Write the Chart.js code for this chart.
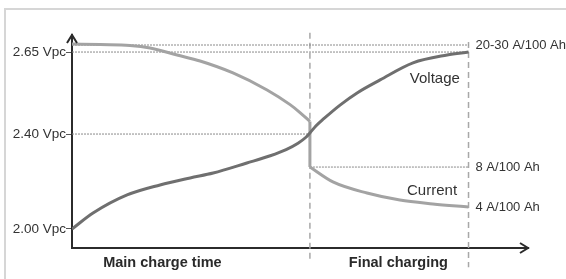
<!DOCTYPE html>
<html>
<head>
<meta charset="utf-8">
<script src="https://cdn.jsdelivr.net/npm/chart.js@4/dist/chart.umd.min.js"></script>
<style>
html, body { margin: 0; padding: 0; background: #fff; }
#wrap { position: relative; width: 566px; height: 279px; overflow: hidden; }
#frame { position: absolute; left: 4px; top: 8px; width: 600px; height: 300px; border-left: 2px solid #d6d6d6; border-top: 2px solid #d6d6d6; }
canvas { position: absolute; left: 0; top: 0; }
</style>
</head>
<body>
<div id="wrap">
  <div id="frame"></div>
  <canvas id="chart" width="566" height="279"></canvas>
</div>
<script>
// schematic units: time 0..115 (main charge ends at 60, final charging at 100),
// level 0..100 from the time axis to the top of the picture
const mainEnd = 60;
const finalEnd = 100;

const timeTicks = [22.8, 82.3];
const timeLabels = ['Main charge time', 'Final charging'];

const voltLevels = [9, 53.5, 92];
const voltLabels = ['2.00 Vpc', '2.40 Vpc', '2.65 Vpc'];

const ampLevels = [95.3, 38, 19];
const ampLabels = ['20-30 A/100 Ah', '8 A/100 Ah', '4 A/100 Ah'];

const voltageT = [0, 5.3, 13.9, 22.2, 29.8, 35.6, 44.1, 50, 54, 57, 59, 60, 61.5, 63.5, 67.6, 71.9, 77.7, 86, 94.6, 100];
const voltageV = [8.9, 16.4, 24.9, 29.6, 32.9, 35.2, 39.9, 43.3, 46.2, 49.2, 52, 54, 57.3, 60.7, 67.1, 72.8, 78.9, 86.9, 90.6, 92];

const currentMainT = [0, 7.1, 14.6, 19.7, 26.5, 32.3, 40.6, 49.2, 55, 57.5, 60];
const currentMainV = [95.8, 95.5, 95.1, 93.9, 90.6, 87.8, 82.2, 74.2, 67.3, 63.6, 59.4];

const currentFinalT = [60, 65.8, 74.4, 82.7, 91, 100];
const currentFinalV = [38, 31, 25.8, 22.5, 20.7, 19.2];

const pts = (xs, ys) => xs.map((x, i) => ({x: x, y: ys[i]}));

const dotted = (y, x0, x1) => ({
    data: [{x: x0, y: y}, {x: x1, y: y}],
    borderColor: '#8a8a8a', borderWidth: 1, borderDash: [2, 1],
    pointRadius: 0, tension: 0
});
const dashed = (x, y0, y1) => ({
    data: [{x: x, y: y0}, {x: x, y: y1}],
    borderColor: '#a8a8a8', borderWidth: 1.5, borderDash: [6, 4],
    pointRadius: 0, tension: 0, clip: false
});

const lastMain = currentMainT.length - 1;

const annotations = {
    id: 'annotations',
    afterDraw(chart) {
        const ctx = chart.ctx;
        const xs = chart.scales.x, ys = chart.scales.y;
        const area = chart.chartArea;
        ctx.save();
        // axis arrows
        ctx.strokeStyle = '#2b2b2b';
        ctx.lineWidth = 2;
        ctx.beginPath();
        ctx.moveTo(area.left - 5, area.top + 8);
        ctx.lineTo(area.left, area.top);
        ctx.lineTo(area.left + 5, area.top + 8);
        ctx.moveTo(area.right - 8, area.bottom - 5);
        ctx.lineTo(area.right, area.bottom);
        ctx.lineTo(area.right - 8, area.bottom + 5);
        ctx.stroke();

        ctx.fillStyle = '#333';
        ctx.textBaseline = 'middle';
        ctx.textAlign = 'left';
        ctx.font = '13px "Liberation Sans", Arial, sans-serif';
        ampLabels.forEach((label, i) => {
            ctx.fillText(label, xs.getPixelForValue(finalEnd) + 7, ys.getPixelForValue(ampLevels[i]));
        });

        ctx.textAlign = 'center';
        ctx.font = '15px "Liberation Sans", Arial, sans-serif';
        ctx.fillText('Voltage', xs.getPixelForValue(91.5), ys.getPixelForValue(79.3));
        ctx.fillText('Current', xs.getPixelForValue(90.8), ys.getPixelForValue(26.8));
        ctx.restore();
    }
};

Chart.defaults.font.family = '"Liberation Sans", Arial, sans-serif';
Chart.defaults.color = '#333';

new Chart(document.getElementById('chart'), {
    type: 'line',
    data: {
        datasets: [
            {data: pts(voltageT, voltageV), borderColor: '#6f6f6f', borderWidth: 3, pointRadius: 0, cubicInterpolationMode: 'monotone'},
            {data: pts(currentMainT, currentMainV), borderColor: '#a3a3a3', borderWidth: 3, pointRadius: 0, cubicInterpolationMode: 'monotone'},
            {data: [{x: currentMainT[lastMain], y: currentMainV[lastMain]}, {x: currentFinalT[0], y: currentFinalV[0]}],
                borderColor: '#a3a3a3', borderWidth: 3, pointRadius: 0, tension: 0},
            {data: pts(currentFinalT, currentFinalV), borderColor: '#a3a3a3', borderWidth: 3, pointRadius: 0, cubicInterpolationMode: 'monotone'},
            dotted(ampLevels[0], 0, finalEnd),
            dotted(voltLevels[2], 0, finalEnd),
            dotted(voltLevels[1], 0, mainEnd),
            dotted(ampLevels[1], mainEnd, finalEnd),
            dashed(mainEnd, 101, -5.6),
            dashed(finalEnd, 96.7, -9)
        ]
    },
    options: {
        responsive: false,
        animation: false,
        devicePixelRatio: 1,
        layout: {padding: {top: 35, right: 38, left: 0, bottom: 0}},
        plugins: {legend: {display: false}, tooltip: {enabled: false}},
        scales: {
            x: {
                type: 'linear', min: 0, max: 115,
                afterFit(scale) { scale.height = 31; },
                afterBuildTicks(scale) { scale.ticks = timeTicks.map(v => ({value: v})); },
                grid: {display: false, drawTicks: false},
                border: {display: true, color: '#2b2b2b', width: 2},
                ticks: {
                    autoSkip: false, maxRotation: 0, padding: 6,
                    font: {size: 14.5, weight: 'bold'}, color: '#2a2a2a',
                    callback: (v, i) => timeLabels[i]
                }
            },
            y: {
                type: 'linear', min: 0, max: 100,
                afterFit(scale) { scale.width = 72; },
                afterBuildTicks(scale) { scale.ticks = voltLevels.map(v => ({value: v})); },
                grid: {display: true, drawOnChartArea: false, drawTicks: true, tickLength: 6, color: '#555'},
                border: {display: true, color: '#2b2b2b', width: 2},
                ticks: {
                    autoSkip: false, padding: 0,
                    font: {size: 13.5}, color: '#333',
                    callback: (v, i) => voltLabels[i]
                }
            }
        }
    },
    plugins: [annotations]
});
</script>
</body>
</html>
